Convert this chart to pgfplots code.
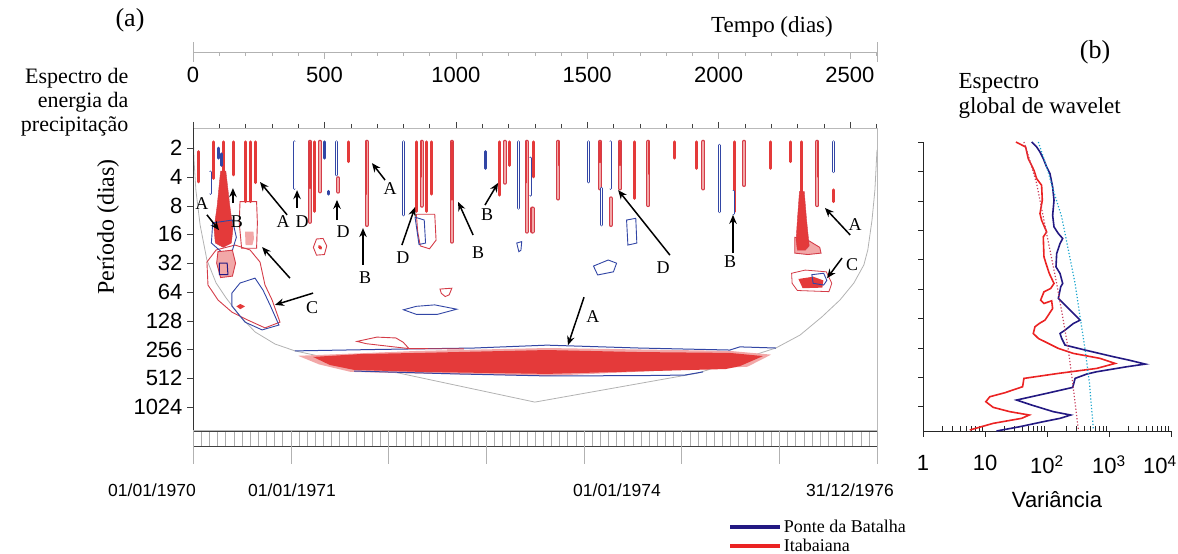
\documentclass[border=0pt]{standalone}
\usepackage{fontspec}
\setmainfont{Liberation Serif}
\setsansfont{Liberation Sans}
\usepackage{pgfplots}
\pgfplotsset{compat=1.18}
\usetikzlibrary{arrows.meta}
\definecolor{wred}{RGB}{228,58,58}
\definecolor{wredo}{RGB}{212,60,72}
\definecolor{wpink}{RGB}{242,168,168}
\definecolor{wblue}{RGB}{50,70,165}
\definecolor{navy}{RGB}{35,25,130}
\definecolor{gred}{RGB}{235,35,35}
\definecolor{dred}{RGB}{200,60,90}
\definecolor{cy}{RGB}{25,165,205}
\definecolor{coi}{RGB}{178,178,178}
\newcommand{\fs}[1]{\fontsize{#1}{#1}\selectfont}
\begin{document}
\begin{tikzpicture}[x=1pt,y=1pt]
\path[use as bounding box] (0,0) rectangle (1178,554);

% ---------- top time axis ----------
\begin{axis}[at={(193pt,502pt)}, anchor=south west, scale only axis,
  width=684pt, height=1pt, xmin=0, xmax=2603, ymin=0, ymax=1,
  hide y axis, axis x line*=bottom, axis line style={gray!60,-},
  xtick={0,500,...,2500}, minor xtick={100,200,...,2600},
  tick align=outside, major tick length=7pt, minor tick length=4pt,
  tick style={gray!60},
  /pgf/number format/assume math mode=true, /pgf/number format/1000 sep={},
  xticklabel style={font=\sffamily\fs{22}, yshift=-5pt},
  extra x ticks={0,2603}, extra x tick labels={},
  extra x tick style={tick align=center, major tick length=20pt}]
\end{axis}

% ---------- main wavelet panel ----------
\begin{axis}[at={(193pt,124pt)}, anchor=south west, scale only axis,
  width=684pt, height=302pt, xmin=0, xmax=2603, ymin=-10.8, ymax=-0.3,
  axis line style={gray!55},
  xtick={0,500,...,2500}, minor xtick={100,200,...,2600}, xticklabels={}, xtick pos=right,
  ytick={-10,...,-1}, yticklabels={1024,512,256,128,64,32,16,8,4,2}, ytick pos=left,
  tick align=outside, major tick length=6pt, minor tick length=4pt,
  tick style={gray!50!black},
  yticklabel style={font=\sffamily\fs{22}, xshift=-1pt},
  unbounded coords=jump]
% cone of influence
\addplot[coi, line width=0.8pt] coordinates {(0,-0.3)(3.8,-1.41)(11,-2.46)(27,-3.67)(53,-4.89)(88,-5.69)(126,-6.21)(179,-6.84)(236,-7.39)(312,-7.81)(388,-8.05)(1301,-9.83)(1922,-8.82)(2218,-7.95)(2310,-7.50)(2393,-6.87)(2462,-6.28)(2515,-5.69)(2553,-5.06)(2568,-4.54)(2584,-3.50)(2595,-2.46)(2603,-1.06)};
% main band
\addplot[fill=wpink, draw=none] coordinates {(400,-8.22)(856,-8.05)(1347,-7.95)(1697,-8.0)(2043,-8.05)(2200,-8.18)(2110,-8.6)(1347,-8.92)(864,-8.84)(600,-8.78)(480,-8.52)} -- cycle;
\addplot[fill=wred, draw=none] coordinates {(457,-8.26)(635,-8.16)(856,-8.12)(1347,-8.02)(1697,-8.09)(2043,-8.12)(2169,-8.23)(2081,-8.58)(2028,-8.68)(1347,-8.85)(864,-8.78)(613,-8.71)(521,-8.54)} -- cycle;
\addplot[wblue, line width=1pt] coordinates {(388,-8.05)(700,-8.0)(1069,-7.95)(1347,-7.85)(1697,-7.95)(2043,-8.02)(2081,-7.91)(2218,-7.95)};
\addplot[wblue, line width=1pt] coordinates {(613,-8.75)(1000,-8.85)(1347,-8.92)(1700,-8.91)(1872,-8.89)(1941,-8.78)};
\addplot[wredo, line width=0.9pt] coordinates {(1031,-7.98)(822,-7.97)(800,-7.75)(772,-7.6)(700,-7.57)(624,-7.72)(660,-7.8)(822,-7.97)};
% left lower contours
\addplot[wredo, line width=0.9pt] coordinates {(53,-4.96)(88,-4.54)(160,-4.37)(217,-4.54)(255,-4.96)(274,-5.76)(301,-6.28)(331,-7.05)(274,-7.25)(209,-6.98)(148,-6.70)(95,-6.28)(57,-5.76)} -- cycle;
\addplot[wblue, line width=0.9pt] coordinates {(179,-5.69)(236,-5.52)(266,-5.93)(293,-6.45)(327,-7.15)(263,-7.32)(198,-7.05)(148,-6.49)(148,-6.04)} -- cycle;
\addplot[fill=wred, draw=none] coordinates {(165,-6.5)(180,-6.42)(198,-6.5)(180,-6.6)} -- cycle;
\addplot[fill=wred, draw=wredo] coordinates {(105,-1.8)(125,-1.8)(140,-3.0)(152,-3.8)(146,-4.3)(115,-4.45)(85,-4.3)(80,-3.8)(92,-3.0)} -- cycle;
\addplot[wblue, line width=0.9pt] coordinates {(75,-3.6)(150,-3.5)(165,-4.1)(150,-4.55)(110,-4.62)(70,-4.3)} -- cycle;
\addplot[fill=wpink, draw=wredo, line width=0.9pt] coordinates {(95,-4.6)(150,-4.55)(162,-5.0)(150,-5.45)(105,-5.5)(90,-5.0)} -- cycle;
\addplot[navy, line width=1pt] coordinates {(100,-5.0)(130,-5.0)(133,-5.4)(100,-5.4)} -- cycle;
\addplot[wredo, line width=0.9pt] coordinates {(179,-2.86)(242,-2.86)(245,-3.6)(242,-4.48)(185,-4.48)(176,-3.6)} -- cycle;
\addplot[fill=wpink, draw=none] coordinates {(198,-3.9)(230,-3.9)(232,-4.15)(226,-4.37)(200,-4.37)} -- cycle;
% red solid streaks
\addplot[wred, line width=3pt, line cap=round] coordinates {
(20,-1.12)(20,-2.17)(nan,nan)(77,-0.78)(77,-2.05)(nan,nan)(153,-0.78)(153,-1.93)(nan,nan)
(115,-0.78)(115,-2.0)(nan,nan)(198,-0.78)(198,-2.86)(nan,nan)(217,-0.78)(217,-2.86)(nan,nan)
(236,-0.78)(236,-2.2)(nan,nan)(464,-0.78)(464,-3.2)(nan,nan)
(591,-0.78)(591,-1.47)(nan,nan)(851,-0.78)(851,-3.2)(nan,nan)
(889,-0.78)(889,-3.2)(nan,nan)(908,-0.78)(908,-2.6)(nan,nan)
(1168,-0.78)(1168,-2.63)(nan,nan)(1206,-0.78)(1206,-1.6)(nan,nan)
(1295,-0.78)(1295,-2.0)(nan,nan)(1682,-0.78)(1682,-2.75)(nan,nan)(1831,-0.78)(1831,-1.35)(nan,nan)
(1917,-0.78)(1917,-1.7)(nan,nan)(2059,-0.78)(2059,-3.21)(nan,nan)
(2198,-0.78)(2198,-1.7)(nan,nan)(2272,-0.78)(2272,-1.47)(nan,nan)(2316,-0.78)(2316,-2.6)(nan,nan)
(2439,-2.45)(2439,-2.86)};
% red outlined streaks
\addplot[wredo, line width=4.2pt, line cap=round] coordinates {
(661,-0.78)(661,-3.67)(nan,nan)(985,-0.78)(985,-4.25)(nan,nan)(1270,-0.78)(1270,-3.9)(nan,nan)
(1390,-0.78)(1390,-2.75)(nan,nan)(1733,-0.78)(1733,-2.98)(nan,nan)(2376,-0.78)(2376,-2.98)(nan,nan)
(553,-2.05)(553,-2.51)(nan,nan)(1292,-3.1)(1292,-3.9)(nan,nan)(1590,-2.75)(1590,-3.67)(nan,nan)
(445,-0.78)(445,-3.56)(nan,nan)(483,-0.78)(483,-2.5)(nan,nan)(870,-0.78)(870,-3.0)(nan,nan)
(1187,-0.78)(1187,-2.2)(nan,nan)(1549,-0.78)(1549,-2.4)(nan,nan)(1625,-0.78)(1625,-2.4)(nan,nan)
(1942,-0.78)(1942,-2.4)(nan,nan)(2097,-0.78)(2097,-2.28)};
\addplot[wpink, line width=2pt, line cap=round] coordinates {
(661,-0.78)(661,-3.67)(nan,nan)(985,-0.78)(985,-4.25)(nan,nan)(1270,-0.78)(1270,-3.9)(nan,nan)
(1390,-0.78)(1390,-2.75)(nan,nan)(1733,-0.78)(1733,-2.98)(nan,nan)(2376,-0.78)(2376,-2.98)(nan,nan)
(553,-2.05)(553,-2.51)(nan,nan)(1292,-3.1)(1292,-3.9)(nan,nan)(1590,-2.75)(1590,-3.67)(nan,nan)
(445,-0.78)(445,-3.56)(nan,nan)(483,-0.78)(483,-2.5)(nan,nan)(870,-0.78)(870,-3.0)(nan,nan)
(1187,-0.78)(1187,-2.2)(nan,nan)(1549,-0.78)(1549,-2.4)(nan,nan)(1625,-0.78)(1625,-2.4)(nan,nan)
(1942,-0.78)(1942,-2.4)(nan,nan)(2097,-0.78)(2097,-2.28)};
\addplot[wred, line width=1.4pt, line cap=round] coordinates {
(661,-0.78)(661,-2.6)(nan,nan)(985,-0.78)(985,-2.8)(nan,nan)(1270,-0.78)(1270,-2.2)(nan,nan)
(1390,-0.78)(1390,-1.6)(nan,nan)(1733,-0.78)(1733,-1.9)(nan,nan)(2376,-0.78)(2376,-2.0)(nan,nan)
(445,-0.78)(445,-2.4)(nan,nan)(870,-0.78)(870,-2.0)(nan,nan)(1549,-0.78)(1549,-1.5)(nan,nan)
(1625,-0.78)(1625,-1.6)};
% blue outlined streaks
\addplot[wblue, line width=3pt, line cap=round] coordinates {
(65,-1.83)(65,-2.57)(nan,nan)(96,-1.0)(96,-1.35)(nan,nan)(109,-1.2)(109,-1.6)(nan,nan)
(388,-0.78)(388,-2.40)(nan,nan)(502,-0.78)(502,-1.35)(nan,nan)(547,-0.78)(547,-1.93)(nan,nan)
(515,-2.5)(515,-2.6)(nan,nan)(801,-0.78)(801,-3.32)(nan,nan)(1115,-1.12)(1115,-1.70)(nan,nan)
(1238,-0.78)(1238,-3.09)(nan,nan)(1283,-1.35)(1283,-2.63)(nan,nan)(1505,-0.78)(1505,-2.17)(nan,nan)
(1587,-0.78)(1587,-2.4)(nan,nan)(1555,-2.4)(1555,-3.67)(nan,nan)(2003,-0.9)(2003,-3.21)(nan,nan)
(2055,-2.5)(2055,-3.28)(nan,nan)(2437,-0.78)(2437,-1.82)};
\addplot[white, line width=1.3pt, line cap=round] coordinates {
(65,-1.83)(65,-2.57)(nan,nan)(388,-0.78)(388,-2.40)(nan,nan)(547,-0.78)(547,-1.93)(nan,nan)
(801,-0.78)(801,-3.32)(nan,nan)(1238,-0.78)(1238,-3.09)(nan,nan)(1283,-1.35)(1283,-2.63)(nan,nan)
(1505,-0.78)(1505,-2.17)(nan,nan)(1555,-2.4)(1555,-3.67)(nan,nan)(2003,-0.9)(2003,-3.21)(nan,nan)
(2437,-0.78)(2437,-1.82)(nan,nan)(2055,-2.5)(2055,-3.28)(nan,nan)(1587,-0.78)(1587,-2.4)};
% scattered contours
\addplot[wredo, line width=0.9pt] coordinates {(458,-4.45)(470,-4.16)(495,-4.14)(509,-4.4)(500,-4.7)(470,-4.72)} -- cycle;
\addplot[wred, line width=3pt, line cap=round] coordinates {(481,-4.42)(486,-4.48)};
\addplot[wredo, line width=0.9pt] coordinates {(940,-5.9)(985,-5.87)(975,-6.1)(960,-6.16)(945,-6.05)} -- cycle;
\addplot[wblue, line width=0.9pt] coordinates {(801,-6.62)(850,-6.5)(920,-6.45)(1004,-6.6)(930,-6.78)(850,-6.78)} -- cycle;
\addplot[wblue, line width=0.9pt] coordinates {(1232,-4.3)(1251,-4.25)(1248,-4.55)(1240,-4.6)} -- cycle;
\addplot[wblue, line width=0.9pt] coordinates {(1650,-3.5)(1685,-3.44)(1689,-4.3)(1655,-4.37)} -- cycle;
\addplot[wblue, line width=0.9pt] coordinates {(1524,-5.1)(1580,-4.89)(1612,-5.0)(1600,-5.3)(1540,-5.41)} -- cycle;
\addplot[wredo, line width=0.9pt] coordinates {(850,-3.3)(920,-3.3)(925,-4.2)(900,-4.5)(865,-4.4)(855,-3.9)} -- cycle;
\addplot[wblue, line width=0.9pt] coordinates {(845,-3.4)(880,-3.5)(885,-4.3)(860,-4.35)} -- cycle;
% right side features
\addplot[fill=wpink, draw=wredo, line width=0.9pt] coordinates {(2290,-4.1)(2340,-4.2)(2385,-4.45)(2390,-4.65)(2340,-4.7)(2290,-4.65)} -- cycle;
\addplot[fill=wred, draw=wredo] coordinates {(2308,-2.5)(2326,-2.5)(2335,-3.5)(2345,-4.4)(2330,-4.55)(2300,-4.55)(2295,-4.2)(2300,-3.5)} -- cycle;
\addplot[fill=white, draw=wredo, line width=0.8pt] coordinates {(2278,-5.35)(2330,-5.24)(2410,-5.3)(2431,-5.7)(2420,-5.99)(2300,-5.95)(2280,-5.7)} -- cycle;
\addplot[fill=wred, draw=none] coordinates {(2304,-5.55)(2360,-5.47)(2399,-5.6)(2395,-5.85)(2320,-5.87)} -- cycle;
\addplot[wblue, line width=0.9pt] coordinates {(2355,-5.4)(2400,-5.35)(2412,-5.6)(2400,-5.76)(2360,-5.7)} -- cycle;
% arrows
\addplot[black, line width=1.5pt, -{Stealth[length=9pt,width=7.5pt]}] coordinates {(53,-3.32)(99,-3.85)};
\addplot[black, line width=1.5pt, -{Stealth[length=9pt,width=7.5pt]}] coordinates {(152,-2.91)(152,-2.39)};
\addplot[black, line width=1.5pt, -{Stealth[length=9pt,width=7.5pt]}] coordinates {(358,-3.32)(255,-2.18)};
\addplot[black, line width=1.5pt, -{Stealth[length=9pt,width=7.5pt]}] coordinates {(396,-3.08)(396,-2.46)};
\addplot[black, line width=1.5pt, -{Stealth[length=9pt,width=7.5pt]}] coordinates {(548,-3.50)(548,-2.80)};
\addplot[black, line width=1.5pt, -{Stealth[length=9pt,width=7.5pt]}] coordinates {(731,-2.11)(681,-1.52)};
\addplot[black, line width=1.5pt, -{Stealth[length=9pt,width=7.5pt]}] coordinates {(647,-5.06)(647,-3.78)};
\addplot[black, line width=1.5pt, -{Stealth[length=9pt,width=7.5pt]}] coordinates {(795,-4.37)(845,-3.05)};
\addplot[black, line width=1.5pt, -{Stealth[length=9pt,width=7.5pt]}] coordinates {(1066,-4.02)(1009,-2.87)};
\addplot[black, line width=1.5pt, -{Stealth[length=9pt,width=7.5pt]}] coordinates {(1111,-2.98)(1161,-2.21)};
\addplot[black, line width=1.5pt, -{Stealth[length=9pt,width=7.5pt]}] coordinates {(369,-5.52)(263,-4.44)};
\addplot[black, line width=1.5pt, -{Stealth[length=9pt,width=7.5pt]}] coordinates {(457,-6.04)(312,-6.45)};
\addplot[black, line width=1.5pt, -{Stealth[length=9pt,width=7.5pt]}] coordinates {(1815,-4.72)(1618,-2.46)};
\addplot[black, line width=1.5pt, -{Stealth[length=9pt,width=7.5pt]}] coordinates {(2055,-4.65)(2055,-3.32)};
\addplot[black, line width=1.5pt, -{Stealth[length=9pt,width=7.5pt]}] coordinates {(2501,-4.02)(2405,-3.08)};
\addplot[black, line width=1.5pt, -{Stealth[length=9pt,width=7.5pt]}] coordinates {(2470,-4.82)(2413,-5.52)};
\addplot[black, line width=1.5pt, -{Stealth[length=9pt,width=7.5pt]}] coordinates {(1488,-6.18)(1427,-7.85)};
% letters
\begin{scope}[every node/.style={font=\fs{18}}]
\node at (axis cs:34,-2.91) {A};
\node at (axis cs:167,-3.57) {B};
\node at (axis cs:343,-3.57) {A};
\node at (axis cs:415,-3.57) {D};
\node at (axis cs:571,-3.92) {D};
\node at (axis cs:750,-2.39) {A};
\node at (axis cs:655,-5.52) {B};
\node at (axis cs:799,-4.79) {D};
\node at (axis cs:1085,-4.65) {B};
\node at (axis cs:1119,-3.32) {B};
\node at (axis cs:453,-6.56) {C};
\node at (axis cs:1789,-5.17) {D};
\node at (axis cs:2044,-4.96) {B};
\node at (axis cs:2520,-3.67) {A};
\node at (axis cs:2508,-5.06) {C};
\node at (axis cs:1522,-6.87) {A};
\end{scope}
\draw[gray!40!black, line width=0.6pt] (rel axis cs:0,0) -- (rel axis cs:0,1);
\end{axis}

% ---------- timeline strip ----------
\begin{axis}[at={(193pt,108pt)}, anchor=south west, scale only axis,
  width=684pt, height=15pt, xmin=0, xmax=84, ymin=0, ymax=1, ytick=\empty,
  xtick={0,...,84}, xticklabels={}, xmajorgrids, major grid style={gray!65, line width=0.4pt},
  major tick length=0pt, xtick pos=left, axis line style={gray!50!black, line width=0.5pt},
  extra x ticks={0,12,...,84}, extra x tick labels={},
  extra x tick style={major tick length=18pt, tick align=outside, tick style={gray!60}}]
\end{axis}

% ---------- global wavelet spectrum ----------
\begin{axis}[at={(923pt,123pt)}, anchor=south west, scale only axis,
  width=248pt, height=289pt, xmin=0, xmax=4, ymin=-10.83, ymax=-1,
  axis x line*=bottom, axis y line*=left, axis line style={-, gray!30!black},
  ytick=\empty,
  xtick={0,...,4}, xticklabels={1,10,{10\textsuperscript{2}},{10\textsuperscript{3}},{\makebox[0pt]{10\textsuperscript{4}\hspace*{22pt}}}},
  minor xtick={0.301,0.477,0.602,0.699,0.778,0.845,0.903,0.954,1.301,1.477,1.602,1.699,1.778,1.845,1.903,1.954,2.301,2.477,2.602,2.699,2.778,2.845,2.903,2.954,3.301,3.477,3.602,3.699,3.778,3.845,3.903,3.954},
  tick align=inside, major tick length=0pt, minor tick length=5pt,
  tick style={gray!30!black},
  extra x ticks={0,...,4}, extra x tick labels={},
  extra x tick style={major tick length=6pt, tick align=outside},
  extra y ticks={-10,...,-1}, extra y tick labels={},
  extra y tick style={major tick length=5pt, tick align=outside},
  xticklabel style={font=\sffamily\fs{22}, yshift=-21pt},
  legend style={at={(-0.786,-0.30)}, anchor=north west, draw=none, fill=none,
    font=\fs{18}, inner sep=0pt, row sep=1pt},
  legend cell align=left,
  legend image code/.code={\draw[#1, line width=3.5pt] (0pt,0pt) -- (50pt,0pt);},
  clip=false]
\addplot[navy, line width=1.6pt] coordinates {(1.752,-1.000)(1.833,-1.170)(1.887,-1.340)(1.940,-1.566)(1.994,-1.849)(2.048,-2.076)(2.091,-2.529)(2.113,-2.982)(2.091,-3.492)(2.113,-3.888)(2.183,-4.115)(2.253,-4.284)(2.210,-4.454)(2.156,-4.794)(2.145,-5.247)(2.210,-5.473)(2.253,-5.813)(2.221,-5.926)(2.183,-6.322)(2.291,-6.549)(2.426,-6.832)(2.533,-7.059)(2.426,-7.172)(2.291,-7.398)(2.210,-7.512)(2.237,-7.682)(2.291,-7.908)(2.616,-8.078)(3.072,-8.304)(3.317,-8.417)(3.585,-8.554)(3.288,-8.644)(2.803,-8.814)(2.642,-8.893)(2.453,-9.041)(2.415,-9.347)(1.994,-9.550)(1.509,-9.777)(1.752,-9.947)(2.102,-10.173)(2.382,-10.287)(2.210,-10.400)(1.940,-10.513)(1.563,-10.683)(1.186,-10.830)};
\addlegendentry{Ponte da Batalha}
\addplot[gred, line width=1.6pt] coordinates {(1.499,-1.000)(1.655,-1.170)(1.698,-1.566)(1.790,-1.963)(1.833,-2.246)(1.913,-2.472)(1.924,-2.982)(1.887,-3.435)(1.913,-3.661)(1.994,-4.058)(1.940,-4.228)(1.951,-4.907)(1.984,-5.134)(2.037,-5.473)(2.113,-5.813)(2.059,-5.983)(1.951,-6.096)(1.897,-6.379)(1.951,-6.492)(2.075,-6.402)(2.091,-6.663)(2.021,-6.889)(1.967,-7.059)(1.876,-7.172)(1.806,-7.285)(1.779,-7.512)(1.860,-7.682)(2.183,-8.021)(2.426,-8.191)(2.857,-8.361)(3.099,-8.531)(2.803,-8.701)(2.183,-8.871)(1.628,-9.041)(1.606,-9.324)(1.321,-9.528)(1.078,-9.664)(1.013,-9.834)(1.132,-10.026)(1.401,-10.173)(1.714,-10.287)(1.590,-10.400)(1.132,-10.570)(0.755,-10.796)};
\addlegendentry{Itabaiana}
\addplot[dred, line width=1.2pt, dotted, forget plot] coordinates {(1.628,-1.000)(1.714,-1.566)(1.833,-2.416)(1.940,-3.548)(2.048,-4.681)(2.156,-5.813)(2.253,-6.946)(2.345,-8.078)(2.415,-9.211)(2.506,-10.796)};
\addplot[cy, line width=1.2pt, dotted, forget plot] coordinates {(1.860,-1.000)(1.994,-1.849)(2.102,-2.642)(2.237,-3.548)(2.345,-4.681)(2.453,-5.813)(2.533,-6.946)(2.616,-8.078)(2.685,-9.211)(2.749,-10.796)};
\end{axis}

% ---------- texts ----------
\node[font=\fs{26}] at (130,534) {(a)};
\node[font=\fs{26}] at (1095,502) {(b)};
\node[font=\fs{23}] at (772,527) {Tempo (dias)};
\node[align=right, anchor=east, font=\fontsize{22}{24}\selectfont] at (132,452) {Espectro de\\energia da\\precipitação};
\node[rotate=90, font=\fs{24}] at (108,327) {Período (dias)};
\node[anchor=west, align=left, font=\fontsize{23}{25}\selectfont] at (955,458) {Espectro\\global de wavelet};
\node[font=\sffamily\fs{22}] at (1057,54) {Variância};
\begin{scope}[every node/.style={font=\sffamily\fs{17.5}}]
\node at (152,64) {01/01/1970};
\node at (292,64) {01/01/1971};
\node at (617,64) {01/01/1974};
\node at (850,64) {31/12/1976};
\end{scope}
\end{tikzpicture}
\end{document}
